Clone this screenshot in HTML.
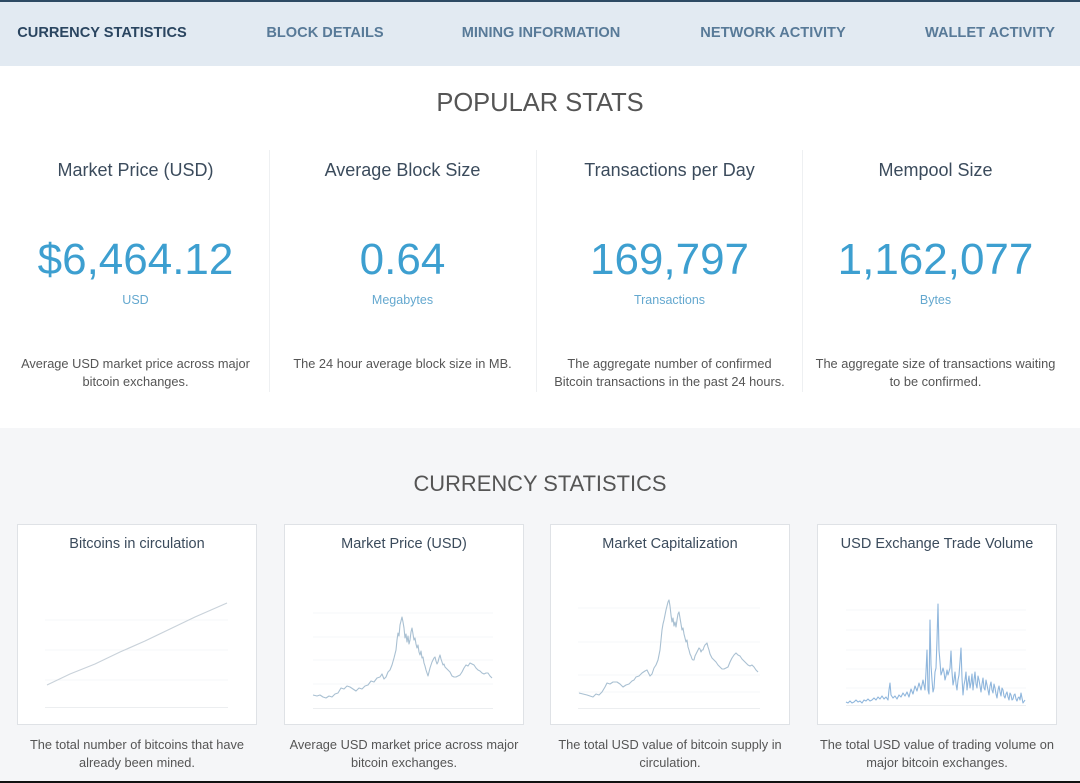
<!DOCTYPE html>
<html><head><meta charset="utf-8">
<style>
*{margin:0;padding:0;box-sizing:border-box}
html,body{width:1080px;height:783px;overflow:hidden;background:#fff;font-family:"Liberation Sans",Arial,sans-serif}
.a{position:absolute}
.topline{left:0;top:0;width:1080px;height:2px;background:#2d4a64}
.nav{left:0;top:2px;width:1080px;height:64px;background:#e2eaf2}
.ni{top:23px;height:20px;line-height:20px;font-size:14.6px;font-weight:bold;color:#587a98;white-space:nowrap;text-align:center;width:240px}
.ni.act{color:#2a4560}
.h1{top:87px;left:0;width:1080px;text-align:center;font-size:25.5px;line-height:32px;color:#555}
.col{width:267px;text-align:center}
.st{top:158px;font-size:18px;line-height:24px;color:#3b4b5c}
.big{top:235px;font-size:44px;line-height:50px;color:#3d9fd0}
.unit{top:292px;font-size:12.5px;line-height:16px;color:#64a8cf}
.desc{top:355px;font-size:12.8px;line-height:18px;color:#555;padding:0 14px}
.vd{top:150px;width:1px;height:242px;background:#eef0f2}
.gray{left:0;top:428px;width:1080px;height:355px;background:#f5f6f8}
.h2{top:470px;left:0;width:1080px;text-align:center;font-size:21.9px;line-height:28px;color:#555}
.card{top:524px;width:240px;height:201px;background:#fff;border:1px solid #dfe2e6}
.ct{top:534px;width:240px;text-align:center;font-size:14.5px;line-height:20px;color:#3b4b5c}
.cd{top:736px;width:240px;text-align:center;font-size:12.8px;line-height:18px;color:#555}
.bot{left:0;top:781px;width:1080px;height:2px;background:#111}
svg{position:absolute;left:0;top:0}
</style></head><body>
<div class="a topline"></div>
<div class="a nav"></div>
<div class="a ni act" style="left:-18px">CURRENCY STATISTICS</div>
<div class="a ni" style="left:205px">BLOCK DETAILS</div>
<div class="a ni" style="left:421px">MINING INFORMATION</div>
<div class="a ni" style="left:653px">NETWORK ACTIVITY</div>
<div class="a ni" style="left:870px">WALLET ACTIVITY</div>

<div class="a h1">POPULAR STATS</div>

<div class="a vd" style="left:269px"></div>
<div class="a vd" style="left:536px"></div>
<div class="a vd" style="left:802px"></div>

<div class="a col st" style="left:2px">Market Price (USD)</div>
<div class="a col st" style="left:269px">Average Block Size</div>
<div class="a col st" style="left:536px">Transactions per Day</div>
<div class="a col st" style="left:802px">Mempool Size</div>

<div class="a col big" style="left:2px">$6,464.12</div>
<div class="a col big" style="left:269px">0.64</div>
<div class="a col big" style="left:536px">169,797</div>
<div class="a col big" style="left:802px">1,162,077</div>

<div class="a col unit" style="left:2px">USD</div>
<div class="a col unit" style="left:269px">Megabytes</div>
<div class="a col unit" style="left:536px">Transactions</div>
<div class="a col unit" style="left:802px">Bytes</div>

<div class="a col desc" style="left:2px">Average USD market price across major bitcoin exchanges.</div>
<div class="a col desc" style="left:269px">The 24 hour average block size in MB.</div>
<div class="a col desc" style="left:536px;padding:0 16px">The aggregate number of confirmed Bitcoin transactions in the past 24 hours.</div>
<div class="a col desc" style="left:802px;padding:0 12px">The aggregate size of transactions waiting to be confirmed.</div>

<div class="a gray"></div>
<div class="a h2">CURRENCY STATISTICS</div>

<div class="a card" style="left:17px"></div>
<div class="a card" style="left:284px"></div>
<div class="a card" style="left:550px"></div>
<div class="a card" style="left:817px"></div>

<div class="a ct" style="left:17px">Bitcoins in circulation</div>
<div class="a ct" style="left:284px">Market Price (USD)</div>
<div class="a ct" style="left:550px">Market Capitalization</div>
<div class="a ct" style="left:817px">USD Exchange Trade Volume</div>

<svg width="1080" height="783" viewBox="0 0 1080 783">
<g stroke="#f6f7f8" stroke-width="1" fill="none">
<line x1="45" y1="620" x2="228" y2="620"/><line x1="45" y1="650" x2="228" y2="650"/><line x1="45" y1="680" x2="228" y2="680"/>
<line x1="313" y1="613" x2="493" y2="613"/><line x1="313" y1="637" x2="493" y2="637"/><line x1="313" y1="660" x2="493" y2="660"/><line x1="313" y1="684" x2="493" y2="684"/>
<line x1="578" y1="608" x2="760" y2="608"/><line x1="578" y1="642" x2="760" y2="642"/><line x1="578" y1="675" x2="760" y2="675"/><line x1="578" y1="692" x2="760" y2="692"/>
<line x1="846" y1="610" x2="1026" y2="610"/><line x1="846" y1="630" x2="1026" y2="630"/><line x1="846" y1="650" x2="1026" y2="650"/><line x1="846" y1="669" x2="1026" y2="669"/><line x1="846" y1="688" x2="1026" y2="688"/>
</g>
<g stroke="#eceef0" stroke-width="1" fill="none">
<line x1="45" y1="707.5" x2="228" y2="707.5"/>
<line x1="313" y1="708.5" x2="493" y2="708.5"/>
<line x1="578" y1="708.5" x2="760" y2="708.5"/>
<line x1="846" y1="705.5" x2="1026" y2="705.5"/>
</g>
<polyline fill="none" stroke="#c9d2da" stroke-width="1.2" points="47,685 70,674 95,664 120,652 145,641 170,629 195,617 227,603"/>
<polyline fill="none" stroke="#a9c0d2" stroke-width="1.1" stroke-linejoin="round" points="313,695 317,696 320,695 323,697 326,698 329,696 332,697 335,694 338,693 341,688 344,689 347,686 350,687 353,689 356,691 359,688 362,689 365,686 368,685 371,681 374,682 377,678 380,677 382,674 384,679 386,677 388,672 390,670 392,665 394,658 396,650 397,640 398,633 399,636 400,625 402,617 403,622 404,628 405,638 406,634 407,642 408,636 409,644 410,640 411,632 412,628 413,634 414,640 415,638 416,644 417,648 418,645 419,652 420,655 421,651 422,658 423,657 424,663 425,666 426,670 427,673 428,676 429,672 430,668 431,665 432,662 433,660 434,658 435,657 436,661 437,664 438,662 439,658 440,655 441,659 442,662 443,665 444,664 445,667 446,668 448,670 450,672 452,676 454,677 456,677 458,676 460,675 462,672 464,668 466,665 468,666 470,663 472,664 474,665 476,668 478,670 480,671 482,673 484,674 486,673 488,673 490,676 492,678"/>
<polyline fill="none" stroke="#a9c0d2" stroke-width="1.1" stroke-linejoin="round" points="579,693 583,694 587,695 590,696 593,697 596,694 599,695 602,692 605,687 607,683 610,684 613,682 617,682 620,684 623,687 626,685 629,684 632,681 634,680 636,677 639,676 642,673 645,671 647,670 650,676 652,674 654,668 656,665 658,660 660,650 661,640 662,630 663,624 664,620 666,610 667,606 668,602 669,600 670,606 671,615 672,622 673,618 674,626 675,622 676,627 677,620 678,614 679,612 680,618 681,624 682,630 683,628 684,634 685,638 686,642 687,640 688,647 689,650 690,654 691,656 692,659 693,660 694,660 695,656 696,654 697,652 698,650 699,648 700,649 701,652 702,650 703,650 704,647 705,645 707,643 708,647 709,650 710,654 711,656 712,658 714,660 716,662 718,665 720,667 722,669 724,669 726,668 728,667 730,662 732,658 734,655 736,653 738,655 740,656 742,659 744,661 746,663 748,665 750,666 752,665 754,667 756,670 758,672"/>
<polyline fill="none" stroke="#8fb6dc" stroke-width="1.1" stroke-linejoin="round" points="846,702 848,703 850,701 852,703 854,702 856,700 858,702 860,701 862,703 864,700 866,701 868,699 870,701 872,700 874,698 876,700 878,697 880,699 882,696 884,699 886,697 888,700 889,690 890,683 891,695 893,698 895,696 897,699 899,695 901,697 903,693 905,696 907,692 909,697 911,689 913,694 915,686 917,691 919,683 921,690 923,680 925,690 926,672 927,650 928,690 929,694 930,620 931,665 932,680 933,692 934,688 935,672 936,668 937,640 938,604 939,650 940,662 941,675 942,672 943,668 944,672 945,680 946,676 947,670 948,675 950,668 951,651 952,672 953,685 954,680 955,672 956,684 957,690 958,680 959,675 960,662 961,648 962,678 963,695 964,685 965,680 966,672 967,690 968,682 969,676 970,688 971,683 972,674 973,690 974,680 975,672 976,684 977,688 978,676 979,680 980,686 981,692 982,684 983,678 984,688 985,690 986,680 987,685 988,690 989,695 990,686 991,682 992,690 993,693 994,684 995,688 996,694 997,698 998,690 999,686 1000,692 1001,696 1002,688 1003,690 1004,696 1005,698 1006,694 1007,692 1008,697 1009,700 1010,693 1011,695 1012,700 1013,699 1014,695 1015,694 1016,699 1017,701 1018,698 1019,697 1020,700 1021,693 1022,698 1023,703 1025,700"/>
</svg>

<div class="a cd" style="left:17px;padding:0 8px">The total number of bitcoins that have already been mined.</div>
<div class="a cd" style="left:279px;width:250px">Average USD market price across major bitcoin exchanges.</div>
<div class="a cd" style="left:550px;padding:0 4px">The total USD value of bitcoin supply in circulation.</div>
<div class="a cd" style="left:812px;width:250px">The total USD value of trading volume on major bitcoin exchanges.</div>

<div class="a bot"></div>
</body></html>
